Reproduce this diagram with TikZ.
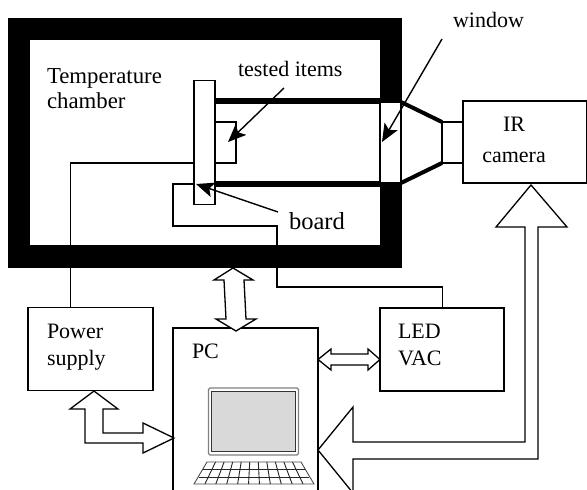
\documentclass[tikz,border=0pt]{standalone}
\usepackage{fontspec}
\setmainfont{Liberation Serif}
\usetikzlibrary{arrows.meta, calc}

\definecolor{screengray}{HTML}{D9D9D9}
\tikzset{
  box/.style={draw, fill=white, line width=1.4pt, inner sep=0pt, outer sep=0pt},
  wire/.style={line width=1.3pt},
  tube/.style={line width=5.5pt},
  cone/.style={line width=4pt},
  pointer/.style={line width=1.4pt, -{Stealth[length=18pt, width=15pt, inset=4pt]}},
  blockarrow/.style={draw, fill=white, line width=1.3pt, miter limit=20},
  lbl/.style={inner sep=0pt, outer sep=0pt, anchor=base west, align=left, font=\fontsize{22}{25}\selectfont},
}

\begin{document}
\begin{tikzpicture}[x=1pt, y=-1pt]
        \useasboundingbox (0,0) rectangle (587,490);

        \node[draw, line width=22.5pt, minimum width=372pt, minimum height=227.5pt, inner sep=0pt] (chamber) at (205,142.75) {};
        \node[box, minimum width=124pt, minimum height=83pt] (led) at (442,349.5) {};
        \node[box, minimum width=125pt, minimum height=83pt] (power) at (90.5,349) {};
        \node[box, minimum width=145pt, minimum height=172pt] (pc) at (245.5,414) {};
        \node[box, minimum width=124pt, minimum height=82pt] (camera) at (525,142) {};
        \node[box, minimum width=21pt, minimum height=41pt] (adapter) at (452.5,142.5) {};
        \node[box, minimum width=21pt, minimum height=81pt] (window) at (390.5,142.5) {};
        \node[box, minimum width=21pt, minimum height=41pt] (item) at (225.5,142.5) {};

        % wires behind the board
        \coordinate (powerup) at (70.7,307.5);
        \coordinate (boardin) at (194,184);
        \draw[wire] (powerup) -- (70.7,163) -- (194,163);
        \draw[wire] (boardin) -- (173,184) -- (173,226) -- (277,226) -- (277,287) -- (442.7,287) -- (led.north -| 442.7,0);

        \node[box, minimum width=21pt, minimum height=124pt] (board) at (204.5,142.7) {};

        \draw[tube] (board.east |- 0,101) -- (window.west |- 0,101);
        \draw[tube] (board.east |- 0,184) -- (window.west |- 0,184);
        \draw[cone] (window.north east) -- (adapter.north west);
        \draw[cone] (window.south east) -- (adapter.south west);

        % block arrows
        \draw[blockarrow] (233,268) -- (253,280) -- (244,280) -- (246,319) -- (256,319) -- (236,331)
                -- (216,319) -- (226,319) -- (224,280) -- (214,280) -- cycle;
        \draw[blockarrow] (94,391) -- (118,409) -- (103,409) -- (103,433) -- (143,433) -- (143,423)
                -- (174,438) -- (143,453) -- (143,443) -- (85,443) -- (85,409) -- (70,409) -- cycle;
        \draw[blockarrow] (318,359.5) -- (331,349) -- (331,354) -- (368,354) -- (368,349) -- (380,359.5)
                -- (368,370) -- (368,365) -- (331,365) -- (331,370) -- cycle;
        \draw[blockarrow] (531,185) -- (567,227) -- (538,227) -- (538,459) -- (353,459) -- (353,493)
                -- (318,450) -- (353,407) -- (353,442) -- (525,442) -- (525,227) -- (496,227) -- cycle;

        % laptop
        \node[draw=gray, line width=1.4pt, rounded corners=1.5pt, minimum width=90pt, minimum height=67pt, inner sep=0pt] (lid) at (253.5,421.5) {};
        \node[draw=black!80, fill=screengray, line width=1.4pt, minimum width=84pt, minimum height=60pt, inner sep=0pt] (screen) at (253.5,421.5) {};
        \coordinate (kbnw) at (207,462);
        \coordinate (kbne) at (301,462);
        \coordinate (kbse) at (314,484);
        \coordinate (kbsw) at (194,484);
        \draw[line width=0.9pt, black!70] (kbnw) -- (kbne) -- (kbse) -- (kbsw) -- cycle;
        \foreach \i in {1,...,10} {
          \draw[line width=0.9pt, black!85] ($(kbnw)!\i/11!(kbne)$) -- ($(kbsw)!\i/11!(kbse)$);
        }
        \draw[line width=0.9pt, black!85] (203,469) -- (305,469);
        \draw[line width=0.9pt, black!85] (199,477) -- (309,477);

        % labels
        \node[lbl, font=\fontsize{22.8}{25}\selectfont] (chamberlbl) at (47,108) {Temperature\\chamber};
        \node[lbl] (itemslbl) at (238,76) {tested items};
        \node[lbl, font=\fontsize{24.5}{25}\selectfont] (boardlbl) at (289,229) {board};
        \node[lbl] (windowlbl) at (453,27) {window};
        \node[lbl, anchor=base, align=center] (cameralbl) at (514,162) {IR\\[6pt]camera};
        \node[lbl] (powerlbl) at (47,365) {Power\\[2pt]supply};
        \node[lbl] (pclbl) at (192,358) {PC};
        \node[lbl] (ledlbl) at (398,365) {LED\\[2pt]VAC};

        % pointers
        \coordinate (itemsfrom) at (284,88);
        \coordinate (itemsto) at (228,142);
        \coordinate (boardfrom) at (278,212);
        \coordinate (boardto) at (196,184);
        \coordinate (windowfrom) at (442,39);
        \coordinate (windowto) at (382,142);
        \path[pointer] (itemsfrom) edge (itemsto)
                       (boardfrom) edge (boardto)
                       (windowfrom) edge (windowto);
\end{tikzpicture}
\end{document}
